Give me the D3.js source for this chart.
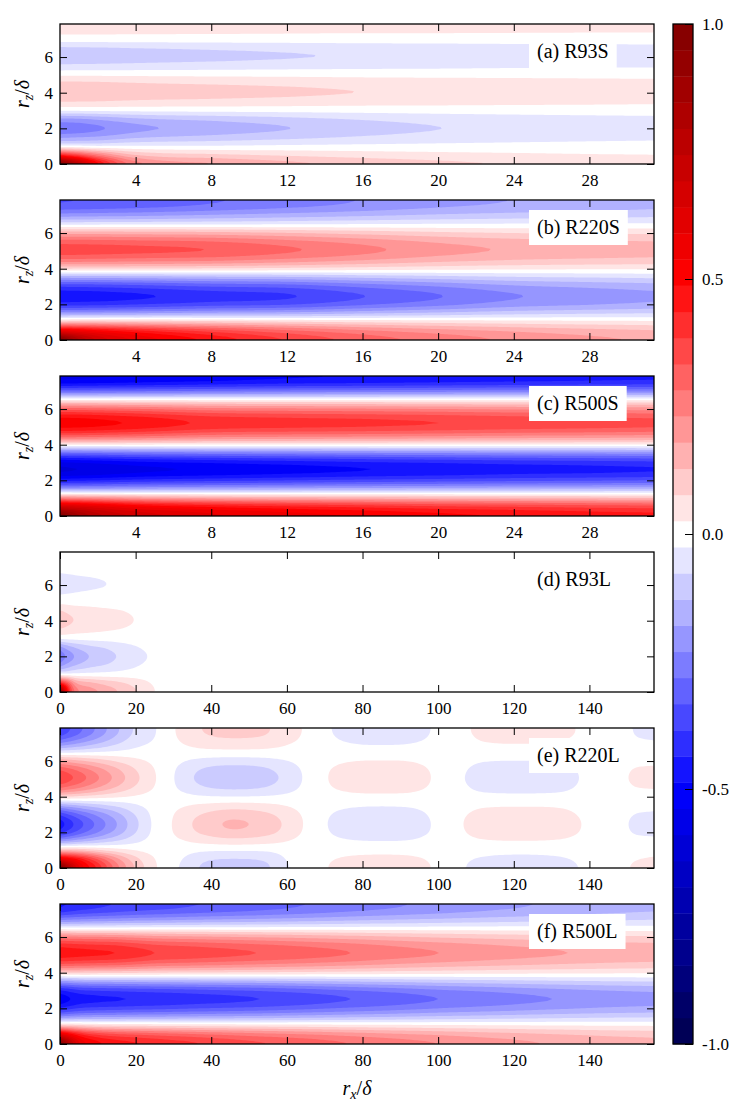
<!DOCTYPE html>
<html lang="en">
  <head>
    <meta charset="utf-8" />
    <title>Spanwise / streamwise correlation maps</title>
    <script src="https://d3js.org/d3.v7.min.js"></script>
    <style type="text/css">
      body { margin: 0; background: #fff; }
      text { font-family: "Liberation Serif", "DejaVu Serif", serif; fill: #000; }
    </style>
  </head>
  <body>
    <script type="text/javascript">
      // rz rows shared by every field (step 0.5)
      const rzRows = [0, 0.5, 1, 1.5, 2, 2.5, 3, 3.5, 4, 4.5, 5, 5.5, 6, 6.5, 7, 7.5, 8];

      // rx columns
      const rxShort = [0, 1, 2, 4, 8, 12, 16, 20, 24, 28, 31.5];
      const rxR93L = [0, 2, 4, 8, 12, 16, 20, 24, 28, 40, 157];
      const rxR220L = [0, 5, 10, 15, 20, 25, 28, 32, 38, 46, 54, 60, 64, 67, 71, 78, 85, 92, 98, 102, 106, 112, 122, 132, 138, 143, 148, 152, 157];
      const rxR500L = [0, 5, 10, 15, 20, 25, 35, 52, 65, 77, 88, 100, 115, 130, 145, 157];

      // correlation values, one row per rzRows entry
      const r93S = [
        [1.0, 0.75, 0.5, 0.25, 0.18, 0.14, 0.11, 0.088, 0.072, 0.062, 0.055],
        [0.45, 0.36, 0.26, 0.13, 0.09, 0.07, 0.055, 0.044, 0.036, 0.03, 0.027],
        [0.0, -0.01, -0.02, -0.02, -0.02, -0.015, -0.012, -0.01, -0.008, -0.007, -0.006],
        [-0.19, -0.18, -0.17, -0.137, -0.112, -0.091, -0.071, -0.055, -0.046, -0.039, -0.035],
        [-0.27, -0.26, -0.24, -0.195, -0.16, -0.13, -0.102, -0.078, -0.065, -0.056, -0.05],
        [-0.197, -0.19, -0.175, -0.142, -0.117, -0.095, -0.074, -0.057, -0.047, -0.041, -0.037],
        [-0.02, -0.02, -0.018, -0.015, -0.012, -0.01, -0.008, -0.006, -0.005, -0.004, -0.004],
        [0.078, 0.077, 0.075, 0.068, 0.062, 0.056, 0.049, 0.046, 0.042, 0.039, 0.036],
        [0.12, 0.118, 0.115, 0.105, 0.095, 0.086, 0.076, 0.07, 0.064, 0.06, 0.056],
        [0.094, 0.092, 0.09, 0.082, 0.074, 0.067, 0.059, 0.055, 0.05, 0.047, 0.044],
        [0.018, 0.018, 0.017, 0.016, 0.014, 0.013, 0.011, 0.01, 0.01, 0.009, 0.008],
        [-0.065, -0.064, -0.063, -0.059, -0.053, -0.047, -0.042, -0.039, -0.035, -0.033, -0.031],
        [-0.11, -0.108, -0.106, -0.1, -0.09, -0.08, -0.072, -0.066, -0.06, -0.056, -0.053],
        [-0.085, -0.083, -0.082, -0.077, -0.069, -0.062, -0.055, -0.051, -0.046, -0.043, -0.041],
        [0, 0, 0, 0, 0, 0, 0, 0, 0, 0, 0],
        [0.04, 0.04, 0.04, 0.039, 0.038, 0.036, 0.034, 0.034, 0.033, 0.032, 0.032],
        [0.05, 0.05, 0.05, 0.049, 0.047, 0.045, 0.043, 0.042, 0.041, 0.04, 0.04]
      ];

      const r220S = [
        [1.0, 0.8, 0.68, 0.58, 0.47, 0.38, 0.31, 0.26, 0.22, 0.19, 0.17],
        [0.6, 0.56, 0.52, 0.46, 0.37, 0.3, 0.245, 0.205, 0.175, 0.15, 0.135],
        [0.14, 0.14, 0.14, 0.13, 0.11, 0.09, 0.075, 0.063, 0.053, 0.046, 0.041],
        [-0.19, -0.186, -0.184, -0.178, -0.164, -0.156, -0.134, -0.114, -0.094, -0.084, -0.076],
        [-0.41, -0.405, -0.4, -0.387, -0.357, -0.339, -0.291, -0.248, -0.204, -0.183, -0.165],
        [-0.47, -0.465, -0.46, -0.445, -0.41, -0.39, -0.335, -0.285, -0.235, -0.21, -0.19],
        [-0.38, -0.377, -0.373, -0.36, -0.332, -0.316, -0.271, -0.231, -0.19, -0.17, -0.154],
        [-0.174, -0.172, -0.17, -0.165, -0.152, -0.144, -0.124, -0.105, -0.087, -0.078, -0.07],
        [0.076, 0.075, 0.075, 0.073, 0.069, 0.061, 0.051, 0.042, 0.036, 0.033, 0.032],
        [0.27, 0.269, 0.266, 0.26, 0.248, 0.218, 0.184, 0.15, 0.129, 0.119, 0.113],
        [0.36, 0.358, 0.355, 0.347, 0.33, 0.29, 0.245, 0.2, 0.172, 0.158, 0.15],
        [0.313, 0.311, 0.309, 0.302, 0.287, 0.252, 0.213, 0.174, 0.15, 0.137, 0.131],
        [0.162, 0.161, 0.16, 0.156, 0.149, 0.131, 0.11, 0.09, 0.077, 0.071, 0.068],
        [-0.037, -0.037, -0.036, -0.035, -0.032, -0.029, -0.025, -0.022, -0.02, -0.018, -0.017],
        [-0.204, -0.201, -0.198, -0.192, -0.174, -0.156, -0.138, -0.12, -0.108, -0.099, -0.09],
        [-0.316, -0.312, -0.307, -0.298, -0.27, -0.242, -0.214, -0.186, -0.167, -0.153, -0.14],
        [-0.34, -0.335, -0.33, -0.32, -0.29, -0.26, -0.23, -0.2, -0.18, -0.165, -0.15]
      ];

      const r500S = [
        [1.0, 0.85, 0.76, 0.68, 0.6, 0.56, 0.53, 0.5, 0.48, 0.46, 0.45],
        [0.7, 0.66, 0.62, 0.55, 0.49, 0.455, 0.43, 0.405, 0.39, 0.375, 0.365],
        [0.25, 0.24, 0.23, 0.205, 0.18, 0.168, 0.16, 0.15, 0.144, 0.138, 0.135],
        [-0.174, -0.171, -0.168, -0.161, -0.154, -0.148, -0.142, -0.138, -0.133, -0.13, -0.128],
        [-0.453, -0.445, -0.438, -0.419, -0.4, -0.385, -0.37, -0.359, -0.347, -0.34, -0.332],
        [-0.594, -0.584, -0.574, -0.549, -0.525, -0.505, -0.485, -0.47, -0.455, -0.446, -0.436],
        [-0.544, -0.535, -0.525, -0.503, -0.48, -0.462, -0.444, -0.43, -0.417, -0.408, -0.399],
        [-0.309, -0.304, -0.299, -0.286, -0.273, -0.263, -0.252, -0.245, -0.237, -0.232, -0.227],
        [0.026, 0.026, 0.025, 0.024, 0.021, 0.02, 0.02, 0.019, 0.019, 0.018, 0.018],
        [0.322, 0.319, 0.313, 0.298, 0.264, 0.254, 0.248, 0.239, 0.229, 0.223, 0.217],
        [0.499, 0.494, 0.485, 0.461, 0.408, 0.394, 0.384, 0.371, 0.355, 0.346, 0.336],
        [0.491, 0.487, 0.477, 0.454, 0.402, 0.387, 0.378, 0.365, 0.35, 0.34, 0.331],
        [0.312, 0.309, 0.303, 0.288, 0.255, 0.246, 0.24, 0.232, 0.222, 0.216, 0.21],
        [0.031, 0.031, 0.03, 0.029, 0.026, 0.025, 0.024, 0.023, 0.022, 0.022, 0.021],
        [-0.291, -0.289, -0.286, -0.281, -0.27, -0.26, -0.255, -0.25, -0.244, -0.239, -0.237],
        [-0.51, -0.505, -0.5, -0.491, -0.473, -0.455, -0.446, -0.437, -0.428, -0.419, -0.414],
        [-0.56, -0.555, -0.55, -0.54, -0.52, -0.5, -0.49, -0.48, -0.47, -0.46, -0.455]
      ];

      const r93L = [
        [1.0, 0.5, 0.27, 0.2, 0.16, 0.12, 0.08, 0.035, 0.01, 0, 0],
        [0.45, 0.33, 0.19, 0.14, 0.11, 0.085, 0.056, 0.025, 0.007, 0, 0],
        [0, -0.01, -0.01, -0.008, -0.006, -0.004, -0.002, 0, 0, 0, 0],
        [-0.2, -0.159, -0.13, -0.093, -0.074, -0.05, -0.03, -0.016, -0.006, 0, 0],
        [-0.27, -0.215, -0.175, -0.125, -0.1, -0.068, -0.04, -0.022, -0.008, 0, 0],
        [-0.194, -0.155, -0.126, -0.09, -0.072, -0.049, -0.029, -0.016, -0.006, 0, 0],
        [-0.019, -0.015, -0.012, -0.009, -0.007, -0.005, -0.003, -0.002, 0, 0, 0],
        [0.072, 0.059, 0.048, 0.039, 0.031, 0.024, 0.016, 0.008, 0.003, 0, 0],
        [0.11, 0.09, 0.074, 0.06, 0.048, 0.037, 0.024, 0.012, 0.004, 0, 0],
        [0.086, 0.07, 0.058, 0.047, 0.037, 0.029, 0.019, 0.009, 0.003, 0, 0],
        [0.017, 0.014, 0.011, 0.009, 0.007, 0.006, 0.004, 0.002, 0, 0, 0],
        [-0.028, -0.025, -0.022, -0.018, -0.015, -0.011, -0.006, -0.002, 0, 0, 0],
        [-0.048, -0.042, -0.037, -0.031, -0.026, -0.018, -0.01, -0.004, 0, 0, 0],
        [-0.037, -0.032, -0.028, -0.024, -0.02, -0.014, -0.008, -0.003, 0, 0, 0],
        [0, 0, 0, 0, 0, 0, 0, 0, 0, 0, 0],
        [0.016, 0.014, 0.013, 0.01, 0.008, 0.006, 0.004, 0.002, 0, 0, 0],
        [0.02, 0.018, 0.016, 0.012, 0.01, 0.008, 0.005, 0.002, 0, 0, 0]
      ];

      const r220L = [
        [1.0, 0.6, 0.42, 0.25, 0.12, 0.035, 0, -0.03, -0.085, -0.1, -0.088, -0.03, -0.008, 0, 0.026, 0.045, 0.05, 0.045, 0.026, 0, -0.02, -0.04, -0.05, -0.04, -0.022, 0, 0.015, 0.03, 0.04],
        [0.6, 0.468, 0.328, 0.195, 0.094, 0.027, 0, -0.023, -0.066, -0.078, -0.069, -0.023, -0.006, 0, 0.02, 0.035, 0.039, 0.035, 0.02, 0, -0.016, -0.031, -0.039, -0.031, -0.017, 0, 0.012, 0.023, 0.031],
        [0.14, 0.12, 0.084, 0.05, 0.024, 0.007, 0, -0.006, -0.017, -0.02, -0.018, -0.006, -0.002, 0, 0.005, 0.009, 0.01, 0.009, 0.005, 0, -0.004, -0.008, -0.01, -0.008, -0.004, 0, 0.003, 0.006, 0.008],
        [-0.184, -0.142, -0.106, -0.072, -0.036, -0.006, 0.004, 0.02, 0.04, 0.054, 0.044, 0.026, 0.011, 0.002, -0.011, -0.022, -0.025, -0.022, -0.01, 0, 0.009, 0.02, 0.024, 0.02, 0.01, 0, -0.006, -0.013, -0.015],
        [-0.4, -0.309, -0.231, -0.157, -0.078, -0.013, 0.009, 0.044, 0.087, 0.117, 0.096, 0.057, 0.024, 0.004, -0.023, -0.048, -0.054, -0.048, -0.023, 0, 0.019, 0.044, 0.052, 0.044, 0.022, 0, -0.013, -0.028, -0.033],
        [-0.46, -0.355, -0.265, -0.18, -0.09, -0.015, 0.01, 0.05, 0.1, 0.135, 0.11, 0.065, 0.028, 0.005, -0.027, -0.055, -0.062, -0.055, -0.026, 0, 0.022, 0.05, 0.06, 0.05, 0.025, 0, -0.015, -0.032, -0.038],
        [-0.373, -0.288, -0.215, -0.146, -0.073, -0.012, 0.008, 0.041, 0.081, 0.109, 0.089, 0.053, 0.023, 0.004, -0.022, -0.045, -0.05, -0.045, -0.021, 0, 0.018, 0.041, 0.049, 0.041, 0.02, 0, -0.012, -0.026, -0.031],
        [-0.17, -0.131, -0.098, -0.067, -0.033, -0.006, 0.004, 0.019, 0.037, 0.05, 0.041, 0.024, 0.01, 0.002, -0.01, -0.02, -0.023, -0.02, -0.01, 0, 0.008, 0.019, 0.022, 0.019, 0.009, 0, -0.006, -0.012, -0.014],
        [0.08, 0.065, 0.049, 0.034, 0.019, 0.006, 0, -0.009, -0.02, -0.024, -0.021, -0.013, -0.005, -0.001, 0.005, 0.012, 0.013, 0.012, 0.005, 0, -0.004, -0.011, -0.013, -0.011, -0.005, 0, 0.003, 0.007, 0.008],
        [0.285, 0.233, 0.176, 0.12, 0.068, 0.023, 0, -0.034, -0.071, -0.086, -0.075, -0.045, -0.02, -0.004, 0.02, 0.041, 0.047, 0.041, 0.02, 0, -0.015, -0.038, -0.045, -0.038, -0.017, 0, 0.011, 0.024, 0.028],
        [0.38, 0.31, 0.235, 0.16, 0.09, 0.03, 0, -0.045, -0.095, -0.115, -0.1, -0.06, -0.026, -0.005, 0.026, 0.055, 0.062, 0.055, 0.026, 0, -0.02, -0.05, -0.06, -0.05, -0.022, 0, 0.015, 0.032, 0.037],
        [0.331, 0.27, 0.204, 0.139, 0.078, 0.026, 0, -0.039, -0.083, -0.1, -0.087, -0.052, -0.023, -0.004, 0.023, 0.048, 0.054, 0.048, 0.023, 0, -0.017, -0.044, -0.052, -0.044, -0.019, 0, 0.013, 0.028, 0.032],
        [0.171, 0.14, 0.106, 0.072, 0.041, 0.014, 0, -0.02, -0.043, -0.052, -0.045, -0.027, -0.012, -0.002, 0.012, 0.025, 0.028, 0.025, 0.012, 0, -0.009, -0.023, -0.027, -0.023, -0.01, 0, 0.007, 0.014, 0.017],
        [-0.042, -0.033, -0.024, -0.015, -0.008, -0.003, 0, 0.004, 0.009, 0.01, 0.009, 0.006, 0.003, 0.001, -0.002, -0.005, -0.006, -0.005, -0.003, 0, 0.002, 0.004, 0.005, 0.004, 0.002, 0, -0.001, -0.003, -0.004],
        [-0.228, -0.18, -0.132, -0.084, -0.042, -0.018, 0, 0.024, 0.048, 0.057, 0.051, 0.03, 0.016, 0.003, -0.013, -0.027, -0.03, -0.027, -0.016, 0, 0.009, 0.023, 0.027, 0.023, 0.012, 0, -0.005, -0.017, -0.021],
        [-0.353, -0.279, -0.205, -0.13, -0.065, -0.028, 0, 0.037, 0.074, 0.088, 0.079, 0.047, 0.024, 0.005, -0.02, -0.042, -0.047, -0.042, -0.024, 0, 0.014, 0.035, 0.042, 0.035, 0.019, 0, -0.007, -0.026, -0.033],
        [-0.38, -0.3, -0.22, -0.14, -0.07, -0.03, 0, 0.04, 0.08, 0.095, 0.085, 0.05, 0.026, 0.005, -0.022, -0.045, -0.05, -0.045, -0.026, 0, 0.015, 0.038, 0.045, 0.038, 0.02, 0, -0.008, -0.028, -0.035]
      ];

      const r500L = [
        [1.0, 0.6, 0.5, 0.46, 0.44, 0.42, 0.39, 0.34, 0.31, 0.28, 0.255, 0.23, 0.2, 0.175, 0.155, 0.145],
        [0.65, 0.468, 0.39, 0.359, 0.343, 0.328, 0.304, 0.265, 0.242, 0.218, 0.199, 0.179, 0.156, 0.137, 0.121, 0.113],
        [0.15, 0.12, 0.1, 0.092, 0.088, 0.084, 0.078, 0.068, 0.062, 0.056, 0.051, 0.046, 0.04, 0.035, 0.031, 0.029],
        [-0.203, -0.181, -0.175, -0.172, -0.168, -0.166, -0.16, -0.151, -0.14, -0.13, -0.121, -0.11, -0.1, -0.09, -0.082, -0.078],
        [-0.426, -0.381, -0.367, -0.361, -0.354, -0.349, -0.336, -0.317, -0.295, -0.273, -0.254, -0.231, -0.21, -0.189, -0.172, -0.164],
        [-0.52, -0.465, -0.448, -0.44, -0.432, -0.425, -0.41, -0.386, -0.36, -0.333, -0.31, -0.282, -0.256, -0.231, -0.21, -0.2],
        [-0.442, -0.395, -0.381, -0.374, -0.367, -0.361, -0.349, -0.328, -0.306, -0.283, -0.264, -0.24, -0.218, -0.196, -0.179, -0.17],
        [-0.203, -0.181, -0.175, -0.172, -0.168, -0.166, -0.16, -0.151, -0.14, -0.13, -0.121, -0.11, -0.1, -0.09, -0.082, -0.078],
        [0.094, 0.091, 0.089, 0.087, 0.082, 0.077, 0.073, 0.067, 0.062, 0.056, 0.051, 0.046, 0.041, 0.037, 0.034, 0.032],
        [0.338, 0.328, 0.32, 0.312, 0.295, 0.277, 0.263, 0.24, 0.222, 0.203, 0.184, 0.166, 0.148, 0.133, 0.121, 0.115],
        [0.465, 0.45, 0.441, 0.43, 0.406, 0.381, 0.361, 0.33, 0.305, 0.279, 0.253, 0.229, 0.203, 0.183, 0.166, 0.158],
        [0.423, 0.41, 0.401, 0.391, 0.369, 0.347, 0.329, 0.3, 0.277, 0.254, 0.23, 0.208, 0.185, 0.167, 0.151, 0.144],
        [0.249, 0.241, 0.236, 0.23, 0.217, 0.204, 0.193, 0.176, 0.163, 0.149, 0.136, 0.122, 0.109, 0.098, 0.089, 0.085],
        [-0.01, -0.01, -0.008, -0.008, -0.007, -0.007, -0.007, -0.006, -0.006, -0.005, -0.005, -0.004, -0.004, -0.004, -0.003, -0.003],
        [-0.252, -0.235, -0.224, -0.216, -0.207, -0.202, -0.19, -0.174, -0.16, -0.146, -0.134, -0.123, -0.109, -0.098, -0.087, -0.081],
        [-0.414, -0.386, -0.368, -0.354, -0.34, -0.331, -0.313, -0.285, -0.262, -0.239, -0.221, -0.202, -0.179, -0.161, -0.143, -0.133],
        [-0.45, -0.42, -0.4, -0.385, -0.37, -0.36, -0.34, -0.31, -0.285, -0.26, -0.24, -0.22, -0.195, -0.175, -0.155, -0.145]
      ];

      const panelLabels = ['(a) R93S', '(b) R220S', '(c) R500S', '(d) R93L', '(e) R220L', '(f) R500L'];
      const xTicksShort = [4, 8, 12, 16, 20, 24, 28];
      const xTicksLong = [0, 20, 40, 60, 80, 100, 120, 140];
      const yTicks = [0, 2, 4, 6];
      const cbarTicks = [-1, -0.5, 0, 0.5, 1];

      const panels = [
        { field: r93S, rx: rxShort, xMax: 10 * Math.PI, ticks: xTicksShort },
        { field: r220S, rx: rxShort, xMax: 10 * Math.PI, ticks: xTicksShort },
        { field: r500S, rx: rxShort, xMax: 10 * Math.PI, ticks: xTicksShort },
        { field: r93L, rx: rxR93L, xMax: 50 * Math.PI, ticks: xTicksLong },
        { field: r220L, rx: rxR220L, xMax: 50 * Math.PI, ticks: xTicksLong },
        { field: r500L, rx: rxR500L, xMax: 50 * Math.PI, ticks: xTicksLong }
      ];

      const w = 747;
      const h = 1115;
      const left = 60;
      const right = 654;
      const panelH = 140;
      const panelTops = [24, 200, 376, 552, 728, 904];
      const zMax = 2.5 * Math.PI;

      // 39 filled bands between -1 and 1, seismic colour map
      const levels = d3.range(40).map(i => -1 + (i * 2) / 39);
      const seismic = d3
        .scaleLinear()
        .domain([-1, -0.5, 0, 0.5, 1])
        .range(['rgb(0,0,77)', 'rgb(0,0,255)', 'rgb(255,255,255)', 'rgb(255,0,0)', 'rgb(128,0,0)']);
      const bandColour = i => seismic((levels[i] + levels[i + 1]) / 2);

      // monotone cubic along rx (columns are not evenly spaced)
      const monotone = (xs, ys) => {
        const n = xs.length;
        const d = [];
        const m = [];
        for (let k = 0; k < n - 1; k++) d.push((ys[k + 1] - ys[k]) / (xs[k + 1] - xs[k]));
        m[0] = d[0];
        m[n - 1] = d[n - 2];
        for (let k = 1; k < n - 1; k++) m[k] = d[k - 1] * d[k] <= 0 ? 0 : (d[k - 1] + d[k]) / 2;
        for (let k = 0; k < n - 1; k++) {
          if (d[k] === 0) {
            m[k] = 0;
            m[k + 1] = 0;
            continue;
          }
          const a = m[k] / d[k];
          const b = m[k + 1] / d[k];
          const s = a * a + b * b;
          if (s > 9) {
            const t = 3 / Math.sqrt(s);
            m[k] = t * a * d[k];
            m[k + 1] = t * b * d[k];
          }
        }
        return x => {
          let k = d3.bisectRight(xs, x) - 1;
          k = Math.max(0, Math.min(n - 2, k));
          const hk = xs[k + 1] - xs[k];
          const t = (x - xs[k]) / hk;
          const t2 = t * t;
          const t3 = t2 * t;
          return (
            (2 * t3 - 3 * t2 + 1) * ys[k] +
            (t3 - 2 * t2 + t) * hk * m[k] +
            (-2 * t3 + 3 * t2) * ys[k + 1] +
            (t3 - t2) * hk * m[k + 1]
          );
        };
      };

      // Catmull-Rom along rz, mirrored at rz = 0
      const alongZ = (col, z) => {
        const n = col.length;
        const s = z / (rzRows[1] - rzRows[0]);
        let k = Math.floor(s);
        if (k > n - 2) k = n - 2;
        const t = s - k;
        const p = i => col[Math.min(Math.abs(i), n - 1)];
        const p0 = p(k - 1);
        const p1 = p(k);
        const p2 = p(k + 1);
        const p3 = p(k + 2);
        return (
          0.5 *
          (2 * p1 +
            (-p0 + p2) * t +
            (2 * p0 - 5 * p1 + 4 * p2 - p3) * t * t +
            (-p0 + 3 * p1 - 3 * p2 + p3) * t * t * t)
        );
      };

      const svg = d3
        .select('body')
        .append('svg')
        .attr('width', w)
        .attr('height', h);

      const nx = 297;
      const ny = 70;
      const cw = (right - left) / nx;
      const ch = panelH / ny;

      panels.forEach((p, pi) => {
        const top = panelTops[pi];
        const bottom = top + panelH;
        const xScale = d3.scaleLinear().domain([0, p.xMax]).range([left, right]);
        const yScale = d3.scaleLinear().domain([0, zMax]).range([bottom, top]);

        // fine grid for the contour generator
        const rowFns = p.field.map(row => monotone(p.rx, row));
        const values = new Float64Array(nx * ny);
        for (let i = 0; i < nx; i++) {
          const xv = xScale.invert(left + (i + 0.5) * cw);
          const col = rowFns.map(f => f(xv));
          for (let j = 0; j < ny; j++) {
            const zv = yScale.invert(top + (j + 0.5) * ch);
            values[j * nx + i] = alongZ(col, zv);
          }
        }

        const contours = d3
          .contours()
          .size([nx, ny])
          .thresholds(levels.slice(1, 39))(values);

        const proj = d3.geoTransform({
          point: function(px, py) {
            this.stream.point(left + px * cw, top + py * ch);
          }
        });
        const path = d3.geoPath(proj);

        svg
          .append('clipPath')
          .attr('id', `clip${pi}`)
          .append('rect')
          .attr('x', left)
          .attr('y', top)
          .attr('width', right - left)
          .attr('height', panelH);

        const g = svg.append('g').attr('clip-path', `url(#clip${pi})`);
        g.append('rect')
          .attr('x', left)
          .attr('y', top)
          .attr('width', right - left)
          .attr('height', panelH)
          .attr('fill', bandColour(0));
        g.selectAll('path')
          .data(contours)
          .enter()
          .append('path')
          .attr('d', path)
          .attr('fill', (d, i) => bandColour(i + 1));

        // Axes, ticks pointing inward on all four sides
        const tidy = sel => {
          sel.select('.domain').remove();
          sel.selectAll('line').attr('stroke', '#000').attr('stroke-width', 1);
          sel.selectAll('text').attr('font-size', 17);
          sel.attr('font-family', null).attr('font-size', null);
        };

        svg.append('g')
          .attr('transform', `translate(0,${bottom})`)
          .call(d3.axisBottom(xScale).tickValues(p.ticks).tickSize(-7).tickPadding(10).tickFormat(d3.format('d')))
          .call(tidy);
        svg.append('g')
          .attr('transform', `translate(0,${top})`)
          .call(d3.axisTop(xScale).tickValues(p.ticks).tickSize(-7).tickFormat(''))
          .call(tidy);
        svg.append('g')
          .attr('transform', `translate(${left},0)`)
          .call(d3.axisLeft(yScale).tickValues(yTicks).tickSize(-7).tickPadding(7).tickFormat(d3.format('d')))
          .call(tidy);
        svg.append('g')
          .attr('transform', `translate(${right},0)`)
          .call(d3.axisRight(yScale).tickValues(yTicks).tickSize(-7).tickFormat(''))
          .call(tidy);

        svg.append('rect')
          .attr('x', left)
          .attr('y', top)
          .attr('width', right - left)
          .attr('height', panelH)
          .attr('fill', 'none')
          .attr('stroke', '#000')
          .attr('stroke-width', 1.3);

        // panel label in a white box
        const lab = svg.append('g');
        const box = lab.append('rect').attr('fill', '#fff');
        const txt = lab.append('text')
          .attr('x', 537)
          .attr('y', top + 34)
          .attr('font-size', 20)
          .text(panelLabels[pi]);
        const tw = txt.node().getComputedTextLength();
        box.attr('x', 529)
          .attr('y', top + 10)
          .attr('width', tw + 16)
          .attr('height', 35);

        // rz / delta
        const yl = svg.append('text')
          .attr('transform', `translate(29,${top + panelH / 2}) rotate(-90)`)
          .attr('text-anchor', 'middle')
          .attr('font-size', 20);
        yl.append('tspan').attr('font-style', 'italic').text('r');
        yl.append('tspan').attr('font-style', 'italic').attr('font-size', 14).attr('dy', 4).text('z');
        yl.append('tspan').attr('dy', -4).text('/');
        yl.append('tspan').attr('font-style', 'italic').text('δ');
      });

      // x label
      const xl = svg.append('text')
        .attr('x', (left + right) / 2)
        .attr('y', 1095)
        .attr('text-anchor', 'middle')
        .attr('font-size', 20);
      xl.append('tspan').attr('font-style', 'italic').text('r');
      xl.append('tspan').attr('font-style', 'italic').attr('font-size', 14).attr('dy', 4).text('x');
      xl.append('tspan').attr('dy', -4).text('/');
      xl.append('tspan').attr('font-style', 'italic').text('δ');

      // Colour bar
      const cbLeft = 673;
      const cbRight = 693;
      const cScale = d3.scaleLinear().domain([-1, 1]).range([panelTops[5] + panelH, panelTops[0]]);
      svg.append('g')
        .selectAll('rect')
        .data(d3.range(39))
        .enter()
        .append('rect')
        .attr('x', cbLeft)
        .attr('y', i => cScale(levels[i + 1]))
        .attr('width', cbRight - cbLeft)
        .attr('height', i => cScale(levels[i]) - cScale(levels[i + 1]) + 0.4)
        .attr('fill', i => bandColour(i));
      svg.append('g')
        .attr('transform', `translate(${cbRight},0)`)
        .call(
          d3.axisRight(cScale)
            .tickValues(cbarTicks)
            .tickSize(-8)
            .tickPadding(9)
            .tickFormat(v => v.toFixed(1))
        )
        .call(sel => {
          sel.select('.domain').remove();
          sel.selectAll('line').attr('stroke', '#000');
          sel.selectAll('text').attr('font-size', 17);
          sel.attr('font-family', null).attr('font-size', null);
        });
      svg.append('rect')
        .attr('x', cbLeft)
        .attr('y', cScale(1))
        .attr('width', cbRight - cbLeft)
        .attr('height', cScale(-1) - cScale(1))
        .attr('fill', 'none')
        .attr('stroke', '#000')
        .attr('stroke-width', 1.3);
    </script>
  </body>
</html>
